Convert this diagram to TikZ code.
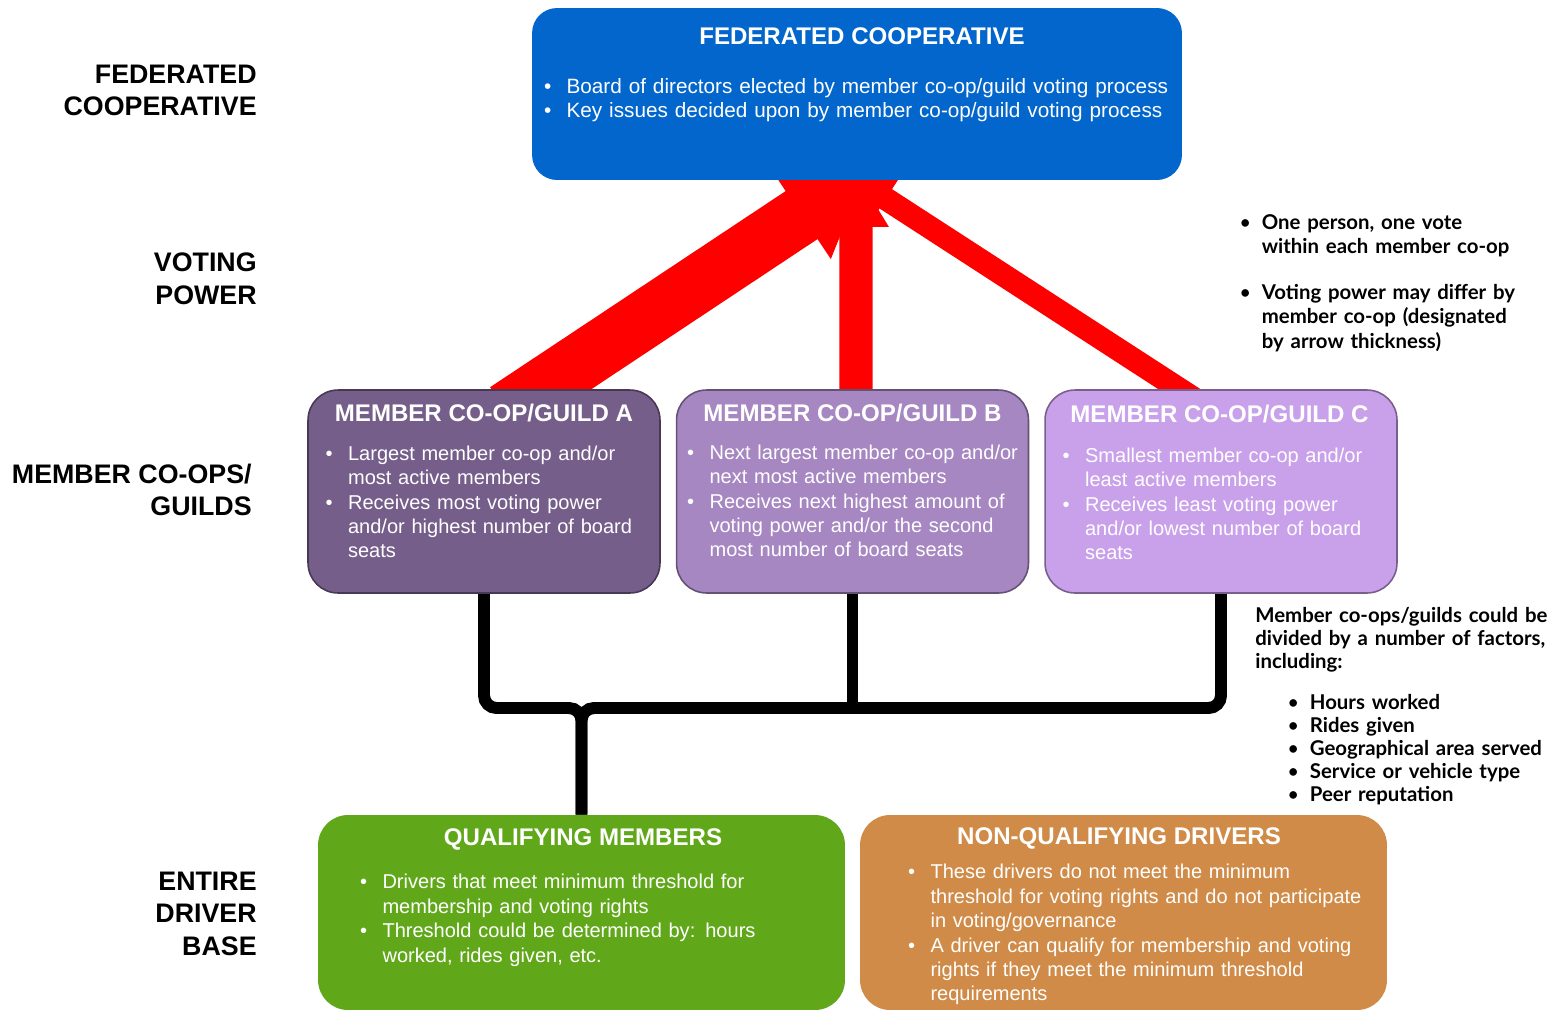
\documentclass[tikz,border=0pt]{standalone}
\usepackage{fontspec}
\setmainfont{Liberation Sans}
\newfontfamily\notefont{Lato}
\usetikzlibrary{positioning,arrows.meta,backgrounds}

\definecolor{fedblue}{HTML}{0266CC}
\definecolor{guilda}{HTML}{765E8A}
\definecolor{guildb}{HTML}{A687C1}
\definecolor{guildc}{HTML}{C9A0EA}
\definecolor{qualgreen}{HTML}{60A81A}
\definecolor{nonqual}{HTML}{CF8B47}

\newcommand{\bodysize}{\fontsize{11.4pt}{13.9pt}\selectfont}
\newcommand{\titlesize}{\fontsize{13.7pt}{16pt}\selectfont\bfseries}
\newcommand{\levelsize}{\fontsize{15.25pt}{18.5pt}\selectfont\bfseries}
\newcommand{\notesize}[1]{\notefont\bfseries\fontsize{11.6pt}{#1}\selectfont}
\newcommand{\bitem}{\par\noindent\hangindent=12.8pt\hangafter=1\hbox to 12.8pt{\mdseries\textbullet\hfil}}

\begin{document}
\begin{tikzpicture}[x=0.02cm, y=-0.02cm,
    fedbox/.style={fill=fedblue, rounded corners=0.5cm, minimum width=13cm, minimum height=3.44cm, inner sep=0pt},
    guildbox/.style={fill=#1, draw=#1!60!black, line width=0.9pt, rounded corners=0.6cm, minimum width=7.04cm, minimum height=4.06cm, inner sep=0pt},
    basebox/.style={fill=#1, rounded corners=0.6cm, minimum width=10.54cm, minimum height=3.9cm, inner sep=0pt},
    boxtitle/.style={text=white, font=\titlesize, inner sep=0pt},
    boxtext/.style={anchor=north west, inner sep=0pt, text width=14cm, align=left, text=white, font=\bodysize},
    level/.style={anchor=north east, inner sep=0pt, align=right, font=\levelsize},
    note/.style={anchor=north west, inner sep=0pt, text width=7cm, align=left},
    vote/.style={draw=red},
    bus/.style={line width=6.8pt, rounded corners=0.25cm}]

    \useasboundingbox (0,0) rectangle (1564,1011);

    % level labels
    \node[level] (lfed) at (257,64.5) {FEDERATED\\COOPERATIVE};
    \node[level] (lvote) at (257,252.5) {VOTING\\POWER};
    \node[level] (lguild) at (252,463.5) {MEMBER CO-OPS/\\GUILDS};
    \node[level] (lbase) at (257,871.5) {ENTIRE\\DRIVER\\BASE};

    % federated cooperative
    \node[fedbox] (fed) at (857,94) {};
    \node[boxtitle] (fedt) at ([shift={(5,29)}]fed.north) {FEDERATED COOPERATIVE};
    \node[boxtext, font=\fontsize{11.8pt}{13.7pt}\selectfont] (fedx) at ([shift={(12,61.8)}]fed.north west) {%
        \bitem Board of directors elected by member co-op/guild voting process
        \bitem Key issues decided upon by member co-op/guild voting process\par};

    % member co-ops
    \node[guildbox=guilda] (ga) at (484,491.5) {};
    \node[guildbox=guildb] (gb) at (852.5,491.5) {};
    \node[guildbox=guildc] (gc) at (1221,491.5) {};
    \node[boxtitle] (gat) at ([shift={(0,24)}]ga.north) {MEMBER CO-OP/GUILD A};
    \node[boxtitle] (gbt) at ([shift={(0,24)}]gb.north) {MEMBER CO-OP/GUILD B};
    \node[boxtitle] (gct) at ([shift={(-1.5,25)}]gc.north) {MEMBER CO-OP/GUILD C};
    \node[boxtext] (gax) at ([shift={(18,46.3)}]ga.north west) {%
        \bitem Largest member co-op and/or\newline most active members
        \bitem Receives most voting power\newline and/or highest number of board\newline seats\par};
    \node[boxtext] (gbx) at ([shift={(11,45.3)}]gb.north west) {%
        \bitem Next largest member co-op and/or\newline next most active members
        \bitem Receives next highest amount of\newline voting power and/or the second\newline most number of board seats\par};
    \node[boxtext] (gcx) at ([shift={(18,48.3)}]gc.north west) {%
        \bitem Smallest member co-op and/or\newline least active members
        \bitem Receives least voting power\newline and/or lowest number of board\newline seats\par};

    % driver base
    \node[basebox=qualgreen] (qm) at (581.5,912.5) {};
    \node[basebox=nonqual] (nq) at (1123.5,912.5) {};
    \node[boxtitle] (qmt) at ([shift={(1.5,25)}]qm.north) {QUALIFYING MEMBERS};
    \node[boxtitle] (nqt) at ([shift={(-4.5,24)}]nq.north) {NON-QUALIFYING DRIVERS};
    \node[boxtext] (qmx) at ([shift={(42,49.3)}]qm.north west) {%
        \bitem Drivers that meet minimum threshold for\newline membership and voting rights
        \bitem Threshold could be determined by: hours\newline worked, rides given, etc.\par};
    \node[boxtext] (nqx) at ([shift={(48,39.3)}]nq.north west) {%
        \bitem These drivers do not meet the minimum\newline threshold for voting rights and do not participate\newline in voting/governance
        \bitem A driver can qualify for membership and voting\newline rights if they meet the minimum threshold\newline requirements\par};

    % notes
    \node[note, font=\notesize{13.8pt}] (vnote) at (1239,205) {%
        \bitem One person, one vote\newline within each member co-op\par\vskip 12.2pt
        \bitem Voting power may differ by\newline member co-op (designated\newline by arrow thickness)\par};
    \node[note, font=\notesize{13.1pt}] (gnote) at (1255,607) {%
        Member co-ops/guilds could be\\divided by a number of factors,\\including:};
    \node[note, font=\notesize{13.1pt}] (glist) at (1287,686.5) {%
        \bitem Hours worked
        \bitem Rides given
        \bitem Geographical area served
        \bitem Service or vehicle type
        \bitem Peer reputation\par};

    \begin{scope}[on background layer]
        % voting arrows
        \draw[vote, line width=32.8pt, -{Triangle[length=44pt,width=57pt]}]
            ([shift={(22,22)}]ga.north) -- ([shift={(9,-8)}]fed.south);
        \draw[vote, line width=18.8pt, -{Triangle[length=31pt,width=35pt]}]
            ([shift={(3.5,8)}]gb.north) -- ([shift={(-1,-8)}]fed.south);
        \draw[vote, line width=13.1pt, -{Triangle[length=25.6pt,width=28.5pt]}]
            ([shift={(-16,16.5)}]gc.north) -- ([shift={(-9,-6)}]fed.south);

        % membership bus
        \coordinate (bus) at (0,708);
        \draw[bus] (qm.north) -- (qm.north |- bus) -- (ga.south |- bus) -- (ga.south);
        \draw[bus] (qm.north) -- (qm.north |- bus) -- (gc.south |- bus) -- (gc.south);
        \draw[bus] (gb.south) -- (gb.south |- bus);
    \end{scope}
\end{tikzpicture}
\end{document}
